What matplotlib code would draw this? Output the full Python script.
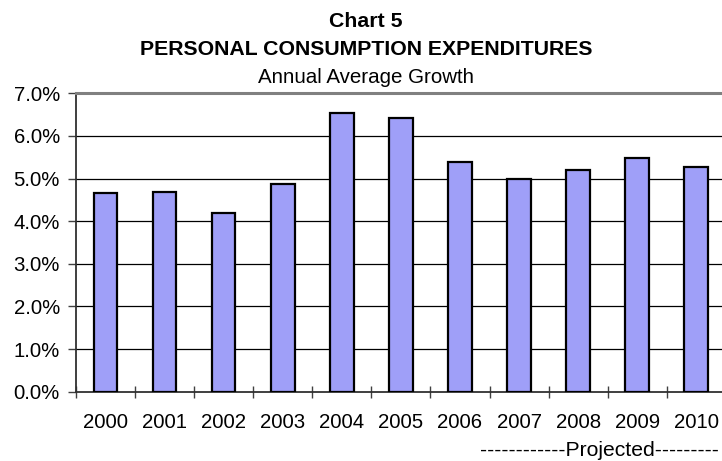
import matplotlib
matplotlib.use("Agg")
import matplotlib.pyplot as plt
from matplotlib.ticker import FixedLocator, FuncFormatter

# Annual average growth of personal consumption expenditures (percent)
years = ["2000", "2001", "2002", "2003", "2004", "2005",
         "2006", "2007", "2008", "2009", "2010"]
growth = [4.67, 4.68, 4.20, 4.88, 6.54, 6.41, 5.39, 4.98, 5.20, 5.48, 5.27]
y_ticks = [0, 1, 2, 3, 4, 5, 6, 7]

plt.rcParams["font.family"] = ["Liberation Sans", "DejaVu Sans"]

fig = plt.figure(figsize=(7.22, 4.61), dpi=100)
ax = fig.add_axes([0.10526, 0.1503, 0.90, 0.6473])

x = list(range(len(years)))
ax.bar(x, growth, width=0.4, color="#9f9ff8", edgecolor="black",
       linewidth=1.6, zorder=3)

ax.set_xlim(-0.5, len(years) - 0.5)
ax.set_ylim(0, 7)

# horizontal gridlines
ax.set_yticks(y_ticks)
ax.yaxis.set_major_formatter(FuncFormatter(lambda v, p: f"{v:.1f}%"))
for v in y_ticks[1:-1]:
    ax.axhline(v, color="black", linewidth=0.9, zorder=1)

# category boundaries get tick marks, centers get the labels
ax.xaxis.set_major_locator(FixedLocator([i - 0.5 for i in range(len(years) + 1)]))
ax.xaxis.set_major_formatter(FuncFormatter(lambda v, p: ""))
ax.xaxis.set_minor_locator(FixedLocator(x))
ax.set_xticks(x, years, minor=True)
ax.tick_params(axis="x", which="major", direction="inout", length=8.6,
               width=1.0, color="#404040")
ax.tick_params(axis="x", which="minor", length=0, pad=15, labelsize=14.7)
ax.tick_params(axis="y", which="major", direction="out", length=5.8,
               width=1.0, color="#404040", pad=5.8, labelsize=14.7)

ax.spines["top"].set_color("#808080")
ax.spines["top"].set_linewidth(2.2)
ax.spines["left"].set_color("#303030")
ax.spines["left"].set_linewidth(1.3)
ax.spines["bottom"].set_color("#303030")
ax.spines["bottom"].set_linewidth(1.3)
ax.spines["right"].set_visible(False)

cx = 0.507
fig.text(cx, 1 - 27 / 461, "Chart 5", ha="center", va="baseline",
         fontsize=15.3, fontweight="bold")
fig.text(cx, 1 - 55 / 461, "PERSONAL CONSUMPTION EXPENDITURES", ha="center",
         va="baseline", fontsize=15.3, fontweight="bold")
fig.text(cx, 1 - 83 / 461, "Annual Average Growth", ha="center",
         va="baseline", fontsize=14.8)
fig.text(480 / 722, 5.5 / 461, "------------Projected---------", ha="left",
         va="baseline", fontsize=15.2)

fig.savefig("out.png", dpi=100)
